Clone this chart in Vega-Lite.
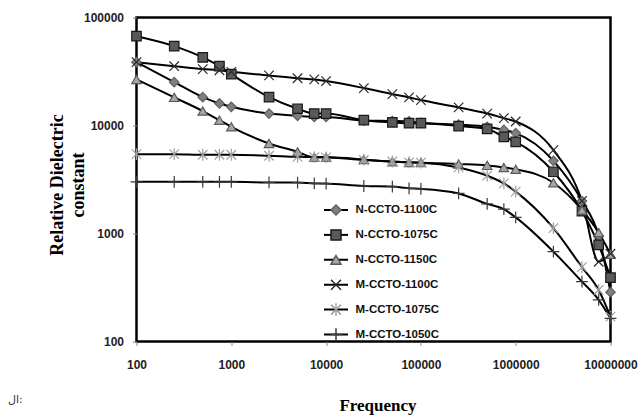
{
  "$schema": "https://vega.github.io/schema/vega-lite/v6.json",
  "width": 474,
  "height": 324,
  "autosize": "none",
  "padding": {"left": 136.5, "top": 17.5, "right": 29.5, "bottom": 74.5},
  "background": "white",
  "title": {"text": "ال:", "orient": "bottom", "anchor": "start", "frame": "bounds", "font": "DejaVu Sans", "fontSize": 11, "fontWeight": "normal", "color": "#333", "dx": -40, "dy": -24},
  "config": {
    "view": {"stroke": "#000", "strokeWidth": 2.5},
    "axis": {"grid": false, "domain": false, "labelFlush": false, "labelOverlap": false, "tickColor": "#888", "tickSize": 4, "labelFont": "Liberation Sans", "labelFontWeight": "bold", "labelFontSize": 12, "labelColor": "#222", "titleFont": "Liberation Serif", "titleFontWeight": "bold", "titleColor": "#000"}
  },
  "data": {"values": [
    {"f":100,"series":"N-CCTO-1100C","v":38600},{"f":250,"series":"N-CCTO-1100C","v":25200},{"f":500,"series":"N-CCTO-1100C","v":18300},{"f":750,"series":"N-CCTO-1100C","v":16000},{"f":1000,"series":"N-CCTO-1100C","v":14900},{"f":2500,"series":"N-CCTO-1100C","v":12900},{"f":5000,"series":"N-CCTO-1100C","v":12300},{"f":7500,"series":"N-CCTO-1100C","v":12000},{"f":10000,"series":"N-CCTO-1100C","v":12000},{"f":25000,"series":"N-CCTO-1100C","v":11100},{"f":50000,"series":"N-CCTO-1100C","v":11000},{"f":75000,"series":"N-CCTO-1100C","v":10900},{"f":100000,"series":"N-CCTO-1100C","v":10600},{"f":250000,"series":"N-CCTO-1100C","v":10200},{"f":500000,"series":"N-CCTO-1100C","v":9730},{"f":750000,"series":"N-CCTO-1100C","v":9100},{"f":1000000,"series":"N-CCTO-1100C","v":8500},{"f":2500000,"series":"N-CCTO-1100C","v":4710},{"f":5000000,"series":"N-CCTO-1100C","v":2000},{"f":7500000,"series":"N-CCTO-1100C","v":950},{"f":10000000,"series":"N-CCTO-1100C","v":286},
    {"f":100,"series":"N-CCTO-1075C","v":67100},{"f":250,"series":"N-CCTO-1075C","v":54300},{"f":500,"series":"N-CCTO-1075C","v":42700},{"f":750,"series":"N-CCTO-1075C","v":35400},{"f":1000,"series":"N-CCTO-1075C","v":29900},{"f":2500,"series":"N-CCTO-1075C","v":18300},{"f":5000,"series":"N-CCTO-1075C","v":14300},{"f":7500,"series":"N-CCTO-1075C","v":12900},{"f":10000,"series":"N-CCTO-1075C","v":12900},{"f":25000,"series":"N-CCTO-1075C","v":11200},{"f":50000,"series":"N-CCTO-1075C","v":10700},{"f":75000,"series":"N-CCTO-1075C","v":10500},{"f":100000,"series":"N-CCTO-1075C","v":10500},{"f":250000,"series":"N-CCTO-1075C","v":9870},{"f":500000,"series":"N-CCTO-1075C","v":9300},{"f":750000,"series":"N-CCTO-1075C","v":7850},{"f":1000000,"series":"N-CCTO-1075C","v":7060},{"f":2500000,"series":"N-CCTO-1075C","v":3730},{"f":5000000,"series":"N-CCTO-1075C","v":1610},{"f":7500000,"series":"N-CCTO-1075C","v":784},{"f":10000000,"series":"N-CCTO-1075C","v":390},
    {"f":100,"series":"N-CCTO-1150C","v":26700},{"f":250,"series":"N-CCTO-1150C","v":18200},{"f":500,"series":"N-CCTO-1150C","v":13600},{"f":750,"series":"N-CCTO-1150C","v":11200},{"f":1000,"series":"N-CCTO-1150C","v":9730},{"f":2500,"series":"N-CCTO-1150C","v":6820},{"f":5000,"series":"N-CCTO-1150C","v":5710},{"f":7500,"series":"N-CCTO-1150C","v":5070},{"f":10000,"series":"N-CCTO-1150C","v":5070},{"f":25000,"series":"N-CCTO-1150C","v":4850},{"f":50000,"series":"N-CCTO-1150C","v":4610},{"f":75000,"series":"N-CCTO-1150C","v":4550},{"f":100000,"series":"N-CCTO-1150C","v":4530},{"f":250000,"series":"N-CCTO-1150C","v":4400},{"f":500000,"series":"N-CCTO-1150C","v":4270},{"f":750000,"series":"N-CCTO-1150C","v":4090},{"f":1000000,"series":"N-CCTO-1150C","v":3930},{"f":2500000,"series":"N-CCTO-1150C","v":2950},{"f":5000000,"series":"N-CCTO-1150C","v":1650},{"f":7500000,"series":"N-CCTO-1150C","v":1020},{"f":10000000,"series":"N-CCTO-1150C","v":643},
    {"f":100,"series":"M-CCTO-1100C","v":38600},{"f":250,"series":"M-CCTO-1100C","v":35400},{"f":500,"series":"M-CCTO-1100C","v":33300},{"f":750,"series":"M-CCTO-1100C","v":32500},{"f":1000,"series":"M-CCTO-1100C","v":31400},{"f":2500,"series":"M-CCTO-1100C","v":29100},{"f":5000,"series":"M-CCTO-1100C","v":27400},{"f":7500,"series":"M-CCTO-1100C","v":26700},{"f":10000,"series":"M-CCTO-1100C","v":25800},{"f":25000,"series":"M-CCTO-1100C","v":22200},{"f":50000,"series":"M-CCTO-1100C","v":19500},{"f":75000,"series":"M-CCTO-1100C","v":18200},{"f":100000,"series":"M-CCTO-1100C","v":17200},{"f":250000,"series":"M-CCTO-1100C","v":14700},{"f":500000,"series":"M-CCTO-1100C","v":12900},{"f":750000,"series":"M-CCTO-1100C","v":11700},{"f":1000000,"series":"M-CCTO-1100C","v":10900},{"f":2500000,"series":"M-CCTO-1100C","v":5920},{"f":5000000,"series":"M-CCTO-1100C","v":2000},{"f":7500000,"series":"M-CCTO-1100C","v":548},{"f":10000000,"series":"M-CCTO-1100C","v":650},
    {"f":100,"series":"M-CCTO-1075C","v":5430},{"f":250,"series":"M-CCTO-1075C","v":5430},{"f":500,"series":"M-CCTO-1075C","v":5360},{"f":750,"series":"M-CCTO-1075C","v":5360},{"f":1000,"series":"M-CCTO-1075C","v":5360},{"f":2500,"series":"M-CCTO-1075C","v":5250},{"f":5000,"series":"M-CCTO-1075C","v":5130},{"f":7500,"series":"M-CCTO-1075C","v":5100},{"f":10000,"series":"M-CCTO-1075C","v":5070},{"f":25000,"series":"M-CCTO-1075C","v":4790},{"f":50000,"series":"M-CCTO-1075C","v":4640},{"f":75000,"series":"M-CCTO-1075C","v":4550},{"f":100000,"series":"M-CCTO-1075C","v":4530},{"f":250000,"series":"M-CCTO-1075C","v":4090},{"f":500000,"series":"M-CCTO-1075C","v":3430},{"f":750000,"series":"M-CCTO-1075C","v":2910},{"f":1000000,"series":"M-CCTO-1075C","v":2440},{"f":2500000,"series":"M-CCTO-1075C","v":1120},{"f":5000000,"series":"M-CCTO-1075C","v":488},{"f":7500000,"series":"M-CCTO-1075C","v":300},{"f":10000000,"series":"M-CCTO-1075C","v":170},
    {"f":100,"series":"M-CCTO-1050C","v":3010},{"f":250,"series":"M-CCTO-1050C","v":3010},{"f":500,"series":"M-CCTO-1050C","v":3010},{"f":750,"series":"M-CCTO-1050C","v":3010},{"f":1000,"series":"M-CCTO-1050C","v":3010},{"f":2500,"series":"M-CCTO-1050C","v":2970},{"f":5000,"series":"M-CCTO-1050C","v":2960},{"f":7500,"series":"M-CCTO-1050C","v":2910},{"f":10000,"series":"M-CCTO-1050C","v":2900},{"f":25000,"series":"M-CCTO-1050C","v":2750},{"f":50000,"series":"M-CCTO-1050C","v":2720},{"f":75000,"series":"M-CCTO-1050C","v":2620},{"f":100000,"series":"M-CCTO-1050C","v":2590},{"f":250000,"series":"M-CCTO-1050C","v":2350},{"f":500000,"series":"M-CCTO-1050C","v":1880},{"f":750000,"series":"M-CCTO-1050C","v":1680},{"f":1000000,"series":"M-CCTO-1050C","v":1410},{"f":2500000,"series":"M-CCTO-1050C","v":679},{"f":5000000,"series":"M-CCTO-1050C","v":358},{"f":7500000,"series":"M-CCTO-1050C","v":243},{"f":10000000,"series":"M-CCTO-1050C","v":164}
  ]},
  "encoding": {
    "x": {"field": "f", "type": "quantitative", "scale": {"type": "log", "domain": [100, 10000000], "nice": false},
      "axis": {"values": [100, 1000, 10000, 100000, 1000000, 10000000], "format": "d", "labelPadding": 14, "title": "Frequency", "titleFontSize": 17, "titleY": 69, "titleX": 241, "titleBaseline": "alphabetic"}},
    "y": {"field": "v", "type": "quantitative", "scale": {"type": "log", "domain": [100, 100000], "nice": false},
      "axis": {"values": [100, 1000, 10000, 100000], "format": "d", "labelPadding": 9, "title": ["Relative Dielectric", "constant"], "titleFontSize": 18, "titleLineHeight": 21, "titleAngle": -90, "titleX": -74.5, "titleY": 167, "titleAlign": "center", "titleBaseline": "alphabetic"}}
  },
  "layer": [
    {
      "mark": {"type": "line", "interpolate": "monotone", "strokeWidth": 2, "clip": true},
      "encoding": {
        "color": {"field": "series", "type": "nominal",
          "scale": {"domain": ["N-CCTO-1100C", "N-CCTO-1075C", "N-CCTO-1150C", "M-CCTO-1100C", "M-CCTO-1075C", "M-CCTO-1050C", "zz"], "range": ["#000", "#000", "#000", "#000", "#000", "#000", "#000"]},
          "legend": {"orient": "none", "legendX": 186.5, "legendY": 180.5, "title": null, "values": ["N-CCTO-1100C", "N-CCTO-1075C", "N-CCTO-1150C", "M-CCTO-1100C", "M-CCTO-1075C", "M-CCTO-1050C"], "symbolType": "stroke", "symbolSize": 576, "symbolStrokeWidth": 2, "labelExpr": "''", "clipHeight": 24, "rowPadding": 0.9, "padding": 0, "labelFontSize": 11.5}}
      }
    },
    {
      "mark": {"type": "point", "filled": true, "size": 90, "strokeWidth": 1.2, "opacity": 1},
      "encoding": {
        "shape": {"field": "series", "type": "nominal",
          "scale": {"domain": ["N-CCTO-1100C", "N-CCTO-1075C", "N-CCTO-1150C", "M-CCTO-1100C", "M-CCTO-1075C", "M-CCTO-1050C"], "range": ["diamond", "square", "triangle-up", "M-1,-1L1,1M1,-1L-1,1", "M-1,-1L1,1M1,-1L-1,1M0,-1.25L0,1.25", "M-1.25,0L1.25,0M0,-1.25L0,1.25"]},
          "legend": {"orient": "none", "legendX": 193.5, "legendY": 180.5, "title": null, "clipHeight": 24, "rowPadding": 0.9, "padding": 0, "labelOffset": 13.5, "labelFont": "Liberation Sans", "labelFontWeight": "bold", "labelFontSize": 11.5, "labelColor": "#111"}},
        "fill": {"field": "series", "type": "nominal",
          "scale": {"domain": ["N-CCTO-1100C", "N-CCTO-1075C", "N-CCTO-1150C", "M-CCTO-1100C", "M-CCTO-1075C", "M-CCTO-1050C"], "range": ["#7f7f7f", "#595959", "#a6a6a6", "transparent", "transparent", "transparent"]},
          "legend": {"orient": "none", "legendX": 193.5, "legendY": 180.5, "title": null, "clipHeight": 24, "rowPadding": 0.9, "padding": 0, "labelOffset": 13.5, "labelFont": "Liberation Sans", "labelFontWeight": "bold", "labelFontSize": 11.5, "labelColor": "#111"}},
        "stroke": {"field": "series", "type": "nominal",
          "scale": {"domain": ["N-CCTO-1100C", "N-CCTO-1075C", "N-CCTO-1150C", "M-CCTO-1100C", "M-CCTO-1075C", "M-CCTO-1050C"], "range": ["#606060", "#1a1a1a", "#5a5a5a", "#2a2a2a", "#a0a0a0", "#3a3a3a"]},
          "legend": {"orient": "none", "legendX": 193.5, "legendY": 180.5, "title": null, "clipHeight": 24, "rowPadding": 0.9, "padding": 0, "labelOffset": 13.5, "labelFont": "Liberation Sans", "labelFontWeight": "bold", "labelFontSize": 11.5, "labelColor": "#111"}}
      }
    }
  ]
}
